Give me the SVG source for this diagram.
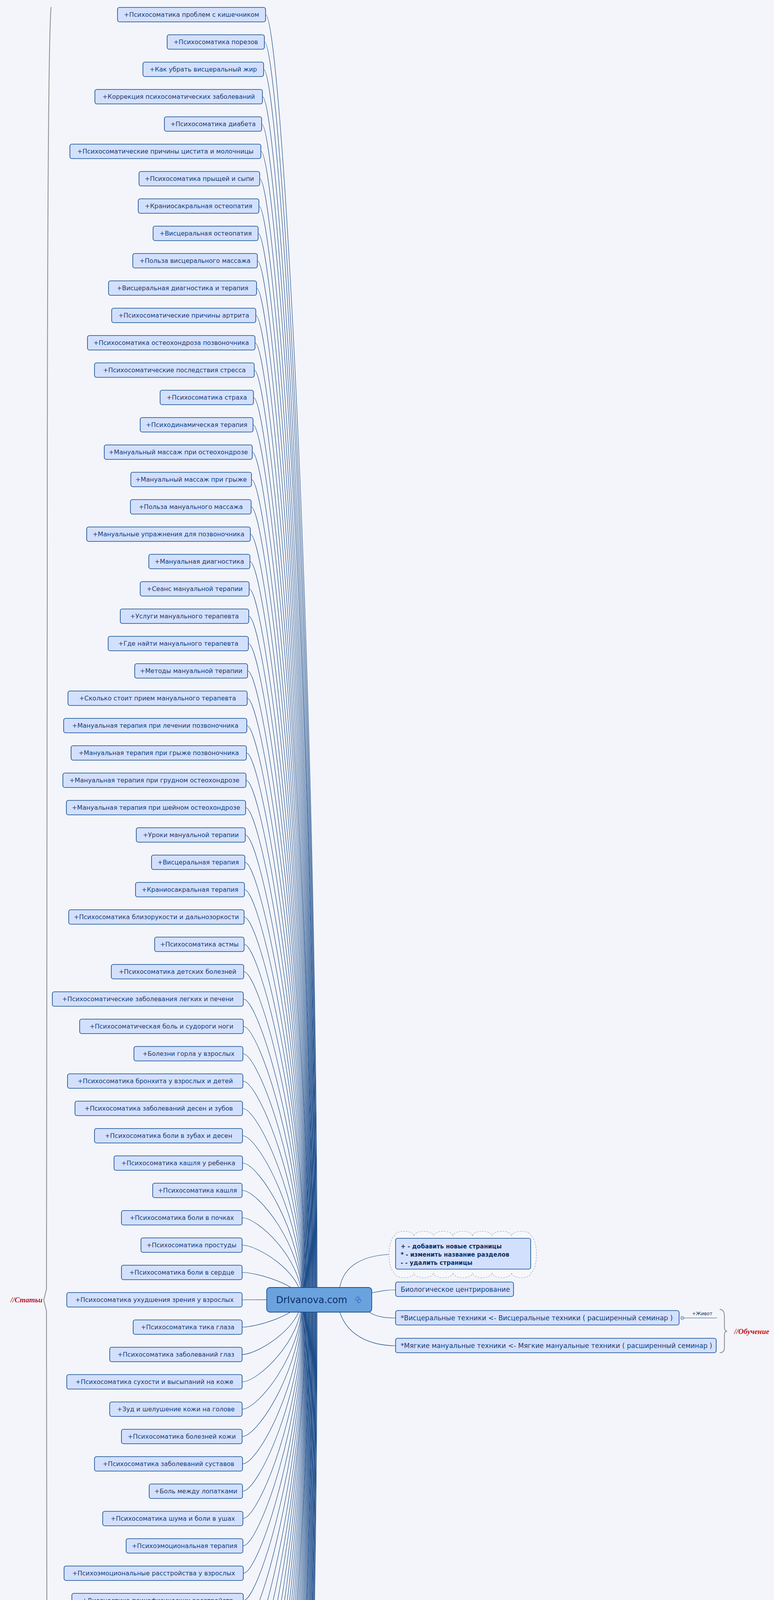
<svg xmlns="http://www.w3.org/2000/svg" width="1982" height="6654" viewBox="0 0 1982 6654">
<style>
.nd{fill:#d3e0fd;stroke:#0d4a8f;stroke-width:1.6}
.t{font-family:"DejaVu Sans",sans-serif;font-size:16px;fill:#173c73;text-anchor:middle}
.ts{font-family:"DejaVu Sans",sans-serif;font-size:17px;fill:#173c73}
.e{fill:none;stroke:#1f4e8a;stroke-width:1.2}
.br{fill:none;stroke:#8a8a8a;stroke-width:2}
.lbl{font-family:"Liberation Serif",serif;font-style:italic;font-weight:bold;font-size:19px;fill:#c2121f}
</style>
<rect width="1982" height="6654" fill="#f3f5fa"/>
<g id="braces">
<path class="br" d="M131,18 Q121,100 121,1500 L119,3300 L112,3328 L119,3356 L121,5000 Q121,6550 131,6636"/>
<text class="lbl" x="27" y="3334">//Статьи</text>
<path class="br" d="M1843,3352 Q1855,3352 1855,3370 L1855,3398 Q1855,3408 1862,3408 Q1855,3408 1855,3418 L1855,3450 Q1855,3463 1843,3463"/>
<text class="lbl" x="1880" y="3415">//Обучение</text>
</g>
<g id="connectors">
<path class="e" d="M680,37.5 C720,37.5 812,1682 812,3327"/>
<path class="e" d="M677,107.5 C717,107.5 811,1717 811,3327"/>
<path class="e" d="M675,177.5 C715,177.5 810,1752 810,3327"/>
<path class="e" d="M672,247.5 C712,247.5 809,1787 809,3327"/>
<path class="e" d="M670,317.5 C710,317.5 808,1822 808,3327"/>
<path class="e" d="M668,387.5 C708,387.5 808,1857 808,3327"/>
<path class="e" d="M665,457.5 C705,457.5 807,1892 807,3327"/>
<path class="e" d="M663,527.5 C703,527.5 806,1927 806,3327"/>
<path class="e" d="M661,597.5 C701,597.5 805,1962 805,3327"/>
<path class="e" d="M659,667.5 C699,667.5 804,1997 804,3327"/>
<path class="e" d="M657,737.5 C697,737.5 803,2032 803,3327"/>
<path class="e" d="M655,807.5 C695,807.5 802,2067 802,3327"/>
<path class="e" d="M653,877.5 C693,877.5 801,2102 801,3327"/>
<path class="e" d="M651,947.5 C691,947.5 800,2137 800,3327"/>
<path class="e" d="M649,1017.5 C689,1017.5 800,2172 800,3327"/>
<path class="e" d="M648,1087.5 C688,1087.5 799,2207 799,3327"/>
<path class="e" d="M646,1157.5 C686,1157.5 798,2242 798,3327"/>
<path class="e" d="M644,1227.5 C684,1227.5 797,2277 797,3327"/>
<path class="e" d="M643,1297.5 C683,1297.5 796,2312 796,3327"/>
<path class="e" d="M641,1367.5 C681,1367.5 795,2347 795,3327"/>
<path class="e" d="M640,1437.5 C680,1437.5 794,2382 794,3327"/>
<path class="e" d="M638,1507.5 C678,1507.5 793,2417 793,3327"/>
<path class="e" d="M637,1577.5 C677,1577.5 792,2452 792,3327"/>
<path class="e" d="M636,1647.5 C676,1647.5 791,2487 791,3327"/>
<path class="e" d="M634,1717.5 C674,1717.5 791,2522 791,3327"/>
<path class="e" d="M633,1787.5 C673,1787.5 790,2557 790,3327"/>
<path class="e" d="M632,1857.5 C672,1857.5 789,2592 789,3327"/>
<path class="e" d="M631,1927.5 C671,1927.5 788,2627 788,3327"/>
<path class="e" d="M630,1997.5 C670,1997.5 787,2662 787,3327"/>
<path class="e" d="M629,2067.5 C669,2067.5 786,2697 786,3327"/>
<path class="e" d="M628,2137.5 C668,2137.5 785,2732 785,3327"/>
<path class="e" d="M627,2207.5 C667,2207.5 784,2767 784,3327"/>
<path class="e" d="M626,2277.5 C666,2277.5 783,2802 783,3327"/>
<path class="e" d="M625,2347.5 C665,2347.5 783,2837 783,3327"/>
<path class="e" d="M625,2417.5 C665,2417.5 782,2872 782,3327"/>
<path class="e" d="M624,2487.5 C664,2487.5 781,2907 781,3327"/>
<path class="e" d="M623,2557.5 C663,2557.5 780,2942 780,3327"/>
<path class="e" d="M623,2627.5 C663,2627.5 779,2977 779,3327"/>
<path class="e" d="M622,2697.5 C662,2697.5 778,3012 778,3327"/>
<path class="e" d="M622,2767.5 C662,2767.5 777,3047 777,3327"/>
<path class="e" d="M621,2837.5 C661,2837.5 776,3082 776,3327"/>
<path class="e" d="M621,2907.5 C661,2907.5 775,3117 775,3327"/>
<path class="e" d="M621,2977.5 C661,2977.5 774,3152 774,3327"/>
<path class="e" d="M620,3047.5 C660,3047.5 774,3187 774,3327"/>
<path class="e" d="M620,3117.5 C660,3117.5 773,3222 773,3327"/>
<path class="e" d="M620,3187.5 C660,3187.5 772,3257 772,3327"/>
<path class="e" d="M620,3257.5 C660,3257.5 771,3292 771,3327"/>
<path class="e" d="M620,3327.5 C660,3327.5 770,3327 770,3327"/>
<path class="e" d="M620,3397.5 C660,3397.5 771,3362 771,3327"/>
<path class="e" d="M620,3467.5 C660,3467.5 772,3397 772,3327"/>
<path class="e" d="M620,3537.5 C660,3537.5 773,3432 773,3327"/>
<path class="e" d="M620,3607.5 C660,3607.5 774,3467 774,3327"/>
<path class="e" d="M620,3677.5 C660,3677.5 774,3502 774,3327"/>
<path class="e" d="M621,3747.5 C661,3747.5 775,3537 775,3327"/>
<path class="e" d="M621,3817.5 C661,3817.5 776,3572 776,3327"/>
<path class="e" d="M622,3887.5 C662,3887.5 777,3607 777,3327"/>
<path class="e" d="M622,3957.5 C662,3957.5 778,3642 778,3327"/>
<path class="e" d="M623,4027.5 C663,4027.5 779,3677 779,3327"/>
<path class="e" d="M623,4097.5 C663,4097.5 780,3712 780,3327"/>
<path class="e" d="M624,4167.5 C664,4167.5 781,3747 781,3327"/>
<path class="e" d="M625,4237.5 C665,4237.5 782,3782 782,3327"/>
<path class="e" d="M625,4307.5 C665,4307.5 783,3817 783,3327"/>
<path class="e" d="M626,4377.5 C666,4377.5 783,3852 783,3327"/>
<path class="e" d="M627,4447.5 C667,4447.5 784,3887 784,3327"/>
<path class="e" d="M628,4517.5 C668,4517.5 785,3922 785,3327"/>
<path class="e" d="M629,4587.5 C669,4587.5 786,3957 786,3327"/>
<path class="e" d="M630,4657.5 C670,4657.5 787,3992 787,3327"/>
<path class="e" d="M631,4727.5 C671,4727.5 788,4027 788,3327"/>
<path class="e" d="M632,4797.5 C672,4797.5 789,4062 789,3327"/>
<path class="e" d="M633,4867.5 C673,4867.5 790,4097 790,3327"/>
<path class="e" d="M634,4937.5 C674,4937.5 791,4132 791,3327"/>
<path class="e" d="M636,5007.5 C676,5007.5 791,4167 791,3327"/>
<path class="e" d="M637,5077.5 C677,5077.5 792,4202 792,3327"/>
<path class="e" d="M638,5147.5 C678,5147.5 793,4237 793,3327"/>
<path class="e" d="M640,5217.5 C680,5217.5 794,4272 794,3327"/>
<path class="e" d="M641,5287.5 C681,5287.5 795,4307 795,3327"/>
<path class="e" d="M643,5357.5 C683,5357.5 796,4342 796,3327"/>
<path class="e" d="M644,5427.5 C684,5427.5 797,4377 797,3327"/>
<path class="e" d="M646,5497.5 C686,5497.5 798,4412 798,3327"/>
<path class="e" d="M648,5567.5 C688,5567.5 799,4447 799,3327"/>
<path class="e" d="M649,5637.5 C689,5637.5 800,4482 800,3327"/>
<path class="e" d="M651,5707.5 C691,5707.5 800,4517 800,3327"/>
<path class="e" d="M653,5777.5 C693,5777.5 801,4552 801,3327"/>
<path class="e" d="M655,5847.5 C695,5847.5 802,4587 802,3327"/>
<path class="e" d="M657,5917.5 C697,5917.5 803,4622 803,3327"/>
<path class="e" d="M659,5987.5 C699,5987.5 804,4657 804,3327"/>
<path class="e" d="M661,6057.5 C701,6057.5 805,4692 805,3327"/>
<path class="e" d="M663,6127.5 C703,6127.5 806,4727 806,3327"/>
<path class="e" d="M665,6197.5 C705,6197.5 807,4762 807,3327"/>
<path class="e" d="M668,6267.5 C708,6267.5 808,4797 808,3327"/>
<path class="e" d="M670,6337.5 C710,6337.5 808,4832 808,3327"/>
<path class="e" d="M672,6407.5 C712,6407.5 809,4867 809,3327"/>
<path class="e" d="M675,6477.5 C715,6477.5 810,4902 810,3327"/>
<path class="e" d="M677,6547.5 C717,6547.5 811,4937 811,3327"/>
<path class="e" d="M680,6617.5 C720,6617.5 812,4972 812,3327"/>
<path class="e" d="M870,3296 C880,3240 930,3211 1013,3211"/>
<path class="e" d="M952,3310 C975,3305 990,3302 1013,3302"/>
<path class="e" d="M945,3359 C965,3372 990,3374 1013,3374"/>
<path class="e" d="M870,3359 C890,3420 950,3445 1013,3445"/>
<path class="e" d="M1751,3374 L1836,3374"/>
</g>
<g id="n1"><rect class="nd" x="301" y="19" width="379" height="37" rx="5"/><text class="t" x="490.5" y="43">+Психосоматика проблем с кишечником</text></g>
<g id="n2"><rect class="nd" x="428" y="89" width="249" height="37" rx="5"/><text class="t" x="552.5" y="113">+Психосоматика порезов</text></g>
<g id="n3"><rect class="nd" x="366" y="159" width="309" height="37" rx="5"/><text class="t" x="520.5" y="183">+Как убрать висцеральный жир</text></g>
<g id="n4"><rect class="nd" x="243" y="229" width="429" height="37" rx="5"/><text class="t" x="457.5" y="253">+Коррекция психосоматических заболеваний</text></g>
<g id="n5"><rect class="nd" x="421" y="299" width="249" height="37" rx="5"/><text class="t" x="545.5" y="323">+Психосоматика диабета</text></g>
<g id="n6"><rect class="nd" x="179" y="369" width="489" height="37" rx="5"/><text class="t" x="423.5" y="393">+Психосоматические причины цистита и молочницы</text></g>
<g id="n7"><rect class="nd" x="356" y="439" width="309" height="37" rx="5"/><text class="t" x="510.5" y="463">+Психосоматика прыщей и сыпи</text></g>
<g id="n8"><rect class="nd" x="354" y="509" width="309" height="37" rx="5"/><text class="t" x="508.5" y="533">+Краниосакральная остеопатия</text></g>
<g id="n9"><rect class="nd" x="392" y="579" width="269" height="37" rx="5"/><text class="t" x="526.5" y="603">+Висцеральная остеопатия</text></g>
<g id="n10"><rect class="nd" x="340" y="649" width="319" height="37" rx="5"/><text class="t" x="499.5" y="673">+Польза висцерального массажа</text></g>
<g id="n11"><rect class="nd" x="278" y="719" width="379" height="37" rx="5"/><text class="t" x="467.5" y="743">+Висцеральная диагностика и терапия</text></g>
<g id="n12"><rect class="nd" x="286" y="789" width="369" height="37" rx="5"/><text class="t" x="470.5" y="813">+Психосоматические причины артрита</text></g>
<g id="n13"><rect class="nd" x="224" y="859" width="429" height="37" rx="5"/><text class="t" x="438.5" y="883">+Психосоматика остеохондроза позвоночника</text></g>
<g id="n14"><rect class="nd" x="242" y="929" width="409" height="37" rx="5"/><text class="t" x="446.5" y="953">+Психосоматические последствия стресса</text></g>
<g id="n15"><rect class="nd" x="410" y="999" width="239" height="37" rx="5"/><text class="t" x="529.5" y="1023">+Психосоматика страха</text></g>
<g id="n16"><rect class="nd" x="359" y="1069" width="289" height="37" rx="5"/><text class="t" x="503.5" y="1093">+Психодинамическая терапия</text></g>
<g id="n17"><rect class="nd" x="267" y="1139" width="379" height="37" rx="5"/><text class="t" x="456.5" y="1163">+Мануальный массаж при остеохондрозе</text></g>
<g id="n18"><rect class="nd" x="335" y="1209" width="309" height="37" rx="5"/><text class="t" x="489.5" y="1233">+Мануальный массаж при грыже</text></g>
<g id="n19"><rect class="nd" x="334" y="1279" width="309" height="37" rx="5"/><text class="t" x="488.5" y="1303">+Польза мануального массажа</text></g>
<g id="n20"><rect class="nd" x="222" y="1349" width="419" height="37" rx="5"/><text class="t" x="431.5" y="1373">+Мануальные упражнения для позвоночника</text></g>
<g id="n21"><rect class="nd" x="381" y="1419" width="259" height="37" rx="5"/><text class="t" x="510.5" y="1443">+Мануальная диагностика</text></g>
<g id="n22"><rect class="nd" x="359" y="1489" width="279" height="37" rx="5"/><text class="t" x="498.5" y="1513">+Сеанс мануальной терапии</text></g>
<g id="n23"><rect class="nd" x="308" y="1559" width="329" height="37" rx="5"/><text class="t" x="472.5" y="1583">+Услуги мануального терапевта</text></g>
<g id="n24"><rect class="nd" x="277" y="1629" width="359" height="37" rx="5"/><text class="t" x="456.5" y="1653">+Где найти мануального терапевта</text></g>
<g id="n25"><rect class="nd" x="345" y="1699" width="289" height="37" rx="5"/><text class="t" x="489.5" y="1723">+Методы мануальной терапии</text></g>
<g id="n26"><rect class="nd" x="174" y="1769" width="459" height="37" rx="5"/><text class="t" x="403.5" y="1793">+Сколько стоит прием мануального терапевта</text></g>
<g id="n27"><rect class="nd" x="163" y="1839" width="469" height="37" rx="5"/><text class="t" x="397.5" y="1863">+Мануальная терапия при лечении позвоночника</text></g>
<g id="n28"><rect class="nd" x="182" y="1909" width="449" height="37" rx="5"/><text class="t" x="406.5" y="1933">+Мануальная терапия при грыже позвоночника</text></g>
<g id="n29"><rect class="nd" x="161" y="1979" width="469" height="37" rx="5"/><text class="t" x="395.5" y="2003">+Мануальная терапия при грудном остеохондрозе</text></g>
<g id="n30"><rect class="nd" x="170" y="2049" width="459" height="37" rx="5"/><text class="t" x="399.5" y="2073">+Мануальная терапия при шейном остеохондрозе</text></g>
<g id="n31"><rect class="nd" x="349" y="2119" width="279" height="37" rx="5"/><text class="t" x="488.5" y="2143">+Уроки мануальной терапии</text></g>
<g id="n32"><rect class="nd" x="388" y="2189" width="239" height="37" rx="5"/><text class="t" x="507.5" y="2213">+Висцеральная терапия</text></g>
<g id="n33"><rect class="nd" x="347" y="2259" width="279" height="37" rx="5"/><text class="t" x="486.5" y="2283">+Краниосакральная терапия</text></g>
<g id="n34"><rect class="nd" x="176" y="2329" width="449" height="37" rx="5"/><text class="t" x="400.5" y="2353">+Психосоматика близорукости и дальнозоркости</text></g>
<g id="n35"><rect class="nd" x="396" y="2399" width="229" height="37" rx="5"/><text class="t" x="510.5" y="2423">+Психосоматика астмы</text></g>
<g id="n36"><rect class="nd" x="285" y="2469" width="339" height="37" rx="5"/><text class="t" x="454.5" y="2493">+Психосоматика детских болезней</text></g>
<g id="n37"><rect class="nd" x="134" y="2539" width="489" height="37" rx="5"/><text class="t" x="378.5" y="2563">+Психосоматические заболевания легких и печени</text></g>
<g id="n38"><rect class="nd" x="204" y="2609" width="419" height="37" rx="5"/><text class="t" x="413.5" y="2633">+Психосоматическая боль и судороги ноги</text></g>
<g id="n39"><rect class="nd" x="343" y="2679" width="279" height="37" rx="5"/><text class="t" x="482.5" y="2703">+Болезни горла у взрослых</text></g>
<g id="n40"><rect class="nd" x="173" y="2749" width="449" height="37" rx="5"/><text class="t" x="397.5" y="2773">+Психосоматика бронхита у взрослых и детей</text></g>
<g id="n41"><rect class="nd" x="192" y="2819" width="429" height="37" rx="5"/><text class="t" x="406.5" y="2843">+Психосоматика заболеваний десен и зубов</text></g>
<g id="n42"><rect class="nd" x="242" y="2889" width="379" height="37" rx="5"/><text class="t" x="431.5" y="2913">+Психосоматика боли в зубах и десен</text></g>
<g id="n43"><rect class="nd" x="292" y="2959" width="329" height="37" rx="5"/><text class="t" x="456.5" y="2983">+Психосоматика кашля у ребенка</text></g>
<g id="n44"><rect class="nd" x="391" y="3029" width="229" height="37" rx="5"/><text class="t" x="505.5" y="3053">+Психосоматика кашля</text></g>
<g id="n45"><rect class="nd" x="311" y="3099" width="309" height="37" rx="5"/><text class="t" x="465.5" y="3123">+Психосоматика боли в почках</text></g>
<g id="n46"><rect class="nd" x="361" y="3169" width="259" height="37" rx="5"/><text class="t" x="490.5" y="3193">+Психосоматика простуды</text></g>
<g id="n47"><rect class="nd" x="311" y="3239" width="309" height="37" rx="5"/><text class="t" x="465.5" y="3263">+Психосоматика боли в сердце</text></g>
<g id="n48"><rect class="nd" x="171" y="3309" width="449" height="37" rx="5"/><text class="t" x="395.5" y="3333">+Психосоматика ухудшения зрения у взрослых</text></g>
<g id="n49"><rect class="nd" x="341" y="3379" width="279" height="37" rx="5"/><text class="t" x="480.5" y="3403">+Психосоматика тика глаза</text></g>
<g id="n50"><rect class="nd" x="281" y="3449" width="339" height="37" rx="5"/><text class="t" x="450.5" y="3473">+Психосоматика заболеваний глаз</text></g>
<g id="n51"><rect class="nd" x="171" y="3519" width="449" height="37" rx="5"/><text class="t" x="395.5" y="3543">+Психосоматика сухости и высыпаний на коже</text></g>
<g id="n52"><rect class="nd" x="281" y="3589" width="339" height="37" rx="5"/><text class="t" x="450.5" y="3613">+Зуд и шелушение кожи на голове</text></g>
<g id="n53"><rect class="nd" x="311" y="3659" width="309" height="37" rx="5"/><text class="t" x="465.5" y="3683">+Психосоматика болезней кожи</text></g>
<g id="n54"><rect class="nd" x="242" y="3729" width="379" height="37" rx="5"/><text class="t" x="431.5" y="3753">+Психосоматика заболеваний суставов</text></g>
<g id="n55"><rect class="nd" x="382" y="3799" width="239" height="37" rx="5"/><text class="t" x="501.5" y="3823">+Боль между лопатками</text></g>
<g id="n56"><rect class="nd" x="263" y="3869" width="359" height="37" rx="5"/><text class="t" x="442.5" y="3893">+Психосоматика шума и боли в ушах</text></g>
<g id="n57"><rect class="nd" x="323" y="3939" width="299" height="37" rx="5"/><text class="t" x="472.5" y="3963">+Психоэмоциональная терапия</text></g>
<g id="n58"><rect class="nd" x="164" y="4009" width="459" height="37" rx="5"/><text class="t" x="393.5" y="4033">+Психоэмоциональные расстройства у взрослых</text></g>
<g id="n59"><rect class="nd" x="184" y="4079" width="439" height="37" rx="5"/><text class="t" x="403.5" y="4103">+Диагностика психофизических расстройств</text></g>
<g id="n60"><rect class="nd" x="395" y="4149" width="229" height="37" rx="5"/><text class="t" x="509.5" y="4173">+Боль в позвоночнике</text></g>
<g id="n61"><rect class="nd" x="366" y="4219" width="259" height="37" rx="5"/><text class="t" x="495.5" y="4243">+Психосоматика насморка</text></g>
<g id="n62"><rect class="nd" x="286" y="4289" width="339" height="37" rx="5"/><text class="t" x="455.5" y="4313">+Психосоматика заболеваний носа</text></g>
<g id="n63"><rect class="nd" x="207" y="4359" width="419" height="37" rx="5"/><text class="t" x="416.5" y="4383">+Психосоматические расстройства у детей</text></g>
<g id="n64"><rect class="nd" x="358" y="4429" width="269" height="37" rx="5"/><text class="t" x="492.5" y="4453">+Психосоматика переломов</text></g>
<g id="n65"><rect class="nd" x="329" y="4499" width="299" height="37" rx="5"/><text class="t" x="478.5" y="4523">+Психосоматика ушибов и ран</text></g>
<g id="n66"><rect class="nd" x="360" y="4569" width="269" height="37" rx="5"/><text class="t" x="494.5" y="4593">+Психосоматика бесплодия</text></g>
<g id="n67"><rect class="nd" x="241" y="4639" width="389" height="37" rx="5"/><text class="t" x="435.5" y="4663">+Психосоматика гормональных нарушений</text></g>
<g id="n68"><rect class="nd" x="392" y="4709" width="239" height="37" rx="5"/><text class="t" x="511.5" y="4733">+Психосоматика запора</text></g>
<g id="n69"><rect class="nd" x="293" y="4779" width="339" height="37" rx="5"/><text class="t" x="462.5" y="4803">+Психосоматика низкого давления</text></g>
<g id="n70"><rect class="nd" x="284" y="4849" width="349" height="37" rx="5"/><text class="t" x="458.5" y="4873">+Психосоматика высокого давления</text></g>
<g id="n71"><rect class="nd" x="175" y="4919" width="459" height="37" rx="5"/><text class="t" x="404.5" y="4943">+Психосоматическое головокружение и тошнота</text></g>
<g id="n72"><rect class="nd" x="267" y="4989" width="369" height="37" rx="5"/><text class="t" x="451.5" y="5013">+Психосоматические причины мигрени</text></g>
<g id="n73"><rect class="nd" x="198" y="5059" width="439" height="37" rx="5"/><text class="t" x="417.5" y="5083">+Психосоматические расстройства кишечника</text></g>
<g id="n74"><rect class="nd" x="159" y="5129" width="479" height="37" rx="5"/><text class="t" x="398.5" y="5153">+Методы лечения психосоматических заболеваний</text></g>
<g id="n75"><rect class="nd" x="191" y="5199" width="449" height="37" rx="5"/><text class="t" x="415.5" y="5223">+Классификация психосоматических нарушений</text></g>
<g id="n76"><rect class="nd" x="172" y="5269" width="469" height="37" rx="5"/><text class="t" x="406.5" y="5293">+Возникновение психосоматических расстройств</text></g>
<g id="n77"><rect class="nd" x="174" y="5339" width="469" height="37" rx="5"/><text class="t" x="408.5" y="5363">+Возникновение психосоматических заболеваний</text></g>
<g id="n78"><rect class="nd" x="245" y="5409" width="399" height="37" rx="5"/><text class="t" x="444.5" y="5433">+Методы гармонизации здоровья и жизни</text></g>
<g id="n79"><rect class="nd" x="217" y="5479" width="429" height="37" rx="5"/><text class="t" x="431.5" y="5503">+Нетрадиционные оздоровительные методики</text></g>
<g id="n80"><rect class="nd" x="259" y="5549" width="389" height="37" rx="5"/><text class="t" x="453.5" y="5573">+Нетрадиционные способы оздоровления</text></g>
<g id="n81"><rect class="nd" x="310" y="5619" width="339" height="37" rx="5"/><text class="t" x="479.5" y="5643">+Нетрадиционные способы лечения</text></g>
<g id="n82"><rect class="nd" x="242" y="5689" width="409" height="37" rx="5"/><text class="t" x="446.5" y="5713">+Специалист по нетрадиционной медицине</text></g>
<g id="n83"><rect class="nd" x="384" y="5759" width="269" height="37" rx="5"/><text class="t" x="518.5" y="5783">+Альтернативная медицина</text></g>
<g id="n84"><rect class="nd" x="216" y="5829" width="439" height="37" rx="5"/><text class="t" x="435.5" y="5853">+Как лечить психосоматические заболевания</text></g>
<g id="n85"><rect class="nd" x="148" y="5899" width="509" height="37" rx="5"/><text class="t" x="402.5" y="5923">+Как избавиться от психосоматических заболеваний</text></g>
<g id="n86"><rect class="nd" x="240" y="5969" width="419" height="37" rx="5"/><text class="t" x="449.5" y="5993">+Развитие психосоматических расстройств</text></g>
<g id="n87"><rect class="nd" x="282" y="6039" width="379" height="37" rx="5"/><text class="t" x="471.5" y="6063">+Виды психосоматических заболеваний</text></g>
<g id="n88"><rect class="nd" x="254" y="6109" width="409" height="37" rx="5"/><text class="t" x="458.5" y="6133">+Терапия психосоматических заболеваний</text></g>
<g id="n89"><rect class="nd" x="406" y="6179" width="259" height="37" rx="5"/><text class="t" x="535.5" y="6203">+Холистическая медицина</text></g>
<g id="n90"><rect class="nd" x="139" y="6249" width="529" height="37" rx="5"/><text class="t" x="403.5" y="6273">+Симптомы психосоматических расстройств у взрослых</text></g>
<g id="n91"><rect class="nd" x="221" y="6319" width="449" height="37" rx="5"/><text class="t" x="445.5" y="6343">+Диагностика психосоматических расстройств</text></g>
<g id="n92"><rect class="nd" x="283" y="6389" width="389" height="37" rx="5"/><text class="t" x="477.5" y="6413">+Лечение психосоматических нарушений</text></g>
<g id="n93"><rect class="nd" x="266" y="6459" width="409" height="37" rx="5"/><text class="t" x="470.5" y="6483">+Лечение психосоматических расстройств</text></g>
<g id="n94"><rect class="nd" x="268" y="6529" width="409" height="37" rx="5"/><text class="t" x="472.5" y="6553">+Лечение психосоматических заболеваний</text></g>
<g id="n95"><rect class="nd" x="411" y="6599" width="269" height="37" rx="5"/><text class="t" x="545.5" y="6623">Причины избыточного веса</text></g>
<g id="center">
<rect x="683" y="3296" width="269" height="63" rx="8" fill="#6aa2de" stroke="#1b4f8c" stroke-width="1.8"/>
<text x="798" y="3336" font-family="DejaVu Sans, sans-serif" font-size="24" fill="#0d2f66" text-anchor="middle">DrIvanova.com</text>
<g fill="none" stroke="#3a78c8" stroke-width="1.6">
<rect x="912" y="3319" width="6" height="11" rx="3" transform="rotate(40 915 3324.5)"/>
<rect x="917" y="3325" width="6" height="11" rx="3" transform="rotate(40 920 3330.5)"/>
</g>
</g>
<g id="note">
<path d="M1010,3165 A25 13 0 0 1 1060,3165 A25 13 0 0 1 1110,3165 A25 13 0 0 1 1160,3165 A25 13 0 0 1 1210,3165 A25 13 0 0 1 1260,3165 A25 13 0 0 1 1310,3165 A25 13 0 0 1 1360,3165 A16 47 0 0 1 1360,3258 A25 13 0 0 1 1310,3258 A25 13 0 0 1 1260,3258 A25 13 0 0 1 1210,3258 A25 13 0 0 1 1160,3258 A25 13 0 0 1 1110,3258 A25 13 0 0 1 1060,3258 A25 13 0 0 1 1010,3258 A16 47 0 0 1 1010,3165 Z" fill="#f7f8fb" stroke="#b0b0b0" stroke-width="1.4" stroke-dasharray="4 3"/>
<rect class="nd" x="1013" y="3170" width="346" height="79" rx="5"/>
<g font-family="DejaVu Sans, sans-serif" font-size="15" font-weight="bold" fill="#0f2e5e">
<text x="1026" y="3196">+ - добавить новые страницы</text>
<text x="1026" y="3217">* - изменить название разделов</text>
<text x="1026" y="3238">- - удалить страницы</text>
</g>
</g>
<g id="bio"><rect class="nd" x="1013" y="3282" width="302" height="37" rx="5"/><text class="ts" x="1026" y="3306.5">Биологическое центрирование</text></g>
<g id="visc"><rect class="nd" x="1013" y="3355" width="726" height="37" rx="5"/><text class="ts" x="1026" y="3379.5">*Висцеральные техники &lt;- Висцеральные техники ( расширенный семинар )</text></g>
<g id="soft"><rect class="nd" x="1013" y="3426" width="821" height="37" rx="5"/><text class="ts" x="1026" y="3450.5">*Мягкие мануальные техники &lt;- Мягкие мануальные техники ( расширенный семинар )</text></g>
<g id="zhivot">
<circle cx="1747" cy="3374" r="4" fill="#f3f5fa" stroke="#1f4e8a" stroke-width="1"/>
<line x1="1745" y1="3374" x2="1749" y2="3374" stroke="#1f4e8a" stroke-width="1"/>
<text x="1772" y="3367" font-family="DejaVu Sans, sans-serif" font-size="12" fill="#1a2f55">+Живот</text>
</g>
</svg>
